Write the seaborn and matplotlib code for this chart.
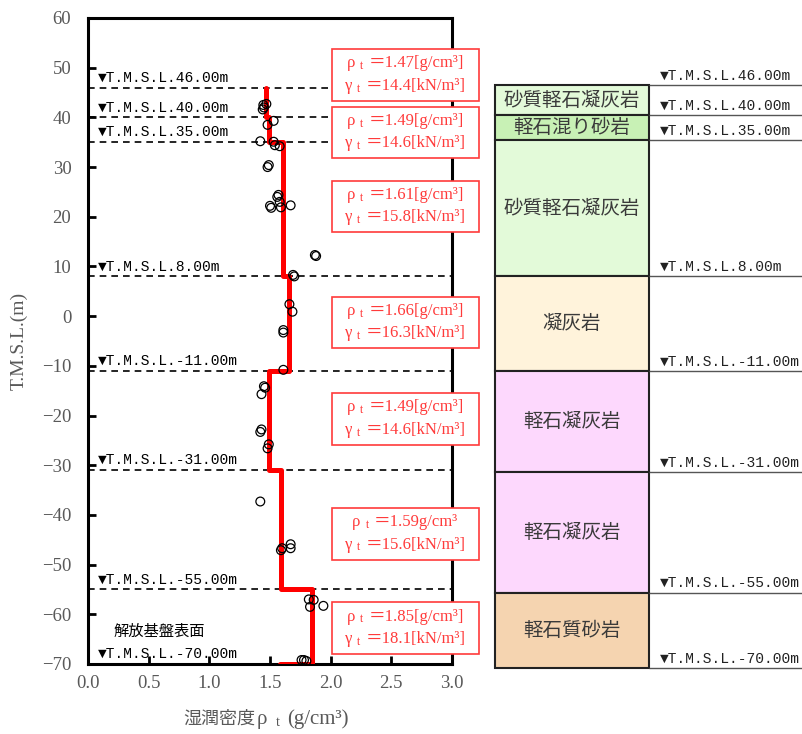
import matplotlib
matplotlib.use("Agg")
import matplotlib.pyplot as plt
import seaborn as sns
import pandas as pd
from matplotlib.ticker import FormatStrFormatter
from matplotlib.offsetbox import TextArea, HPacker, VPacker, AnnotationBbox, DrawingArea

sns.set_theme(style="ticks")
plt.rcParams['font.family'] = ['Liberation Serif', 'Noto Sans CJK JP']
plt.rcParams['mathtext.fontset'] = 'custom'
plt.rcParams['mathtext.rm'] = 'Liberation Serif'
plt.rcParams['mathtext.it'] = 'Liberation Serif:italic'

# 試験値 : 湿潤密度 (g/cm3) と標高 T.M.S.L. (m)
densite = [1.445, 1.47, 1.44, 1.45, 1.48, 1.53, 1.42, 1.53, 1.54, 1.58,
           1.49, 1.48, 1.56, 1.57, 1.50, 1.51, 1.59, 1.58, 1.67,
           1.87, 1.88, 1.69, 1.70, 1.66, 1.685, 1.61, 1.61, 1.61,
           1.45, 1.46, 1.43, 1.42, 1.43, 1.49, 1.48,
           1.42, 1.59, 1.60, 1.67, 1.67,
           1.82, 1.86, 1.94, 1.83, 1.76, 1.80, 1.78]
altitude = [42.5, 42.7, 41.6, 42.0, 38.5, 39.3, 35.2, 35.1, 34.4, 34.2,
            30.4, 30.0, 24.0, 24.4, 22.2, 21.8, 21.9, 23.0, 22.3,
            12.3, 12.1, 8.3, 8.0, 2.4, 0.9, -2.8, -3.3, -10.8,
            -14.1, -14.4, -15.7, -23.3, -22.8, -25.8, -26.6,
            -37.3, -47.1, -46.7, -45.9, -46.7,
            -57.0, -57.1, -58.3, -58.5, -69.2, -69.4, -69.2]

# 層ごとの設定値（階段線）
step_rho = [1.47, 1.47, 1.49, 1.49, 1.61, 1.61, 1.66, 1.66,
            1.49, 1.49, 1.59, 1.59, 1.85, 1.85, 1.58]
step_elev = [46, 40, 40, 35, 35, 8, 8, -11, -11, -31, -31, -55, -55, -70, -70]

# 層境界
limites = [46, 40, 35, 8, -11, -31, -55, -70]
limites_txt = ['46.00m', '40.00m', '35.00m', '8.00m', '-11.00m', '-31.00m', '-55.00m', '-70.00m']

# 層ごとの湿潤密度・単位体積重量
rho_t = ['1.47', '1.49', '1.61', '1.66', '1.49', '1.59', '1.85']
gamma_t = ['14.4', '14.6', '15.8', '16.3', '14.6', '15.6', '18.1']
rho_unit = ['[g/cm³]', '[g/cm³]', '[g/cm³]', '[g/cm³]', '[g/cm³]', 'g/cm³', '[g/cm³]']
box_y = [48.5, 37.0, 22.1, -1.3, -20.7, -43.8, -62.8]

# 地層
couches = ['砂質軽石凝灰岩', '軽石混り砂岩', '砂質軽石凝灰岩', '凝灰岩',
           '軽石凝灰岩', '軽石凝灰岩', '軽石質砂岩']
couleurs = ['#E3FAD9', '#C8F1B5', '#E3FAD9', '#FFF3DB',
            '#FDD8FD', '#FDD8FD', '#F5D4B0']

gris = '#595959'
rouge = '#FF3B3B'
police_tms = ['Liberation Mono', 'DejaVu Sans']

fig = plt.figure(figsize=(8.03, 7.34), dpi=100)
ax = fig.add_axes([88 / 803, 1 - 664 / 734, 364 / 803, 646 / 734])

df = pd.DataFrame({'rho': densite, 'elev': altitude})
sns.lineplot(x=step_rho, y=step_elev, sort=False, estimator=None,
             color='red', linewidth=3.6, ax=ax, zorder=3)
sns.scatterplot(data=df, x='rho', y='elev', ax=ax, s=40, facecolor='none',
                edgecolor='black', linewidth=0.9, zorder=4)

# 境界の破線とラベル
for lim in limites[:-1]:
    ax.axhline(lim, color='black', linestyle=(0, (4, 3)), linewidth=1.2, zorder=2)
for lim, txt in zip(limites, limites_txt):
    ax.text(0.08, lim + 2.0, '▼T.M.S.L.' + txt, family=police_tms,
            fontsize=10.5, va='center', ha='left', color='black', zorder=5)
ax.text(0.21, -63.4, '解放基盤表面', family=['Noto Sans CJK JP'], fontsize=11,
        va='center', ha='left', color='black')

ax.set_xlim(0, 3.0)
ax.set_ylim(-70, 60)
ax.set_xticks([0, 0.5, 1.0, 1.5, 2.0, 2.5, 3.0])
ax.set_yticks(range(-70, 61, 10))
ax.xaxis.set_major_formatter(FormatStrFormatter('%.1f'))
ax.tick_params(direction='in', length=6, width=2, colors='black',
               labelcolor=gris, labelsize=13.5)
ax.tick_params(axis='y', pad=12)
ax.tick_params(axis='x', pad=8)
for sp in ax.spines.values():
    sp.set_linewidth(2.2)
    sp.set_color('black')
ax.set_xlabel('')
ax.set_ylabel('T.M.S.L.(m)', color=gris, fontsize=14, labelpad=10)

# x 軸ラベル（添字付き）
lab = HPacker(children=[
    TextArea('湿潤密度', textprops=dict(color=gris, fontsize=13)),
    HPacker(children=[
        TextArea('ρ', textprops=dict(color=gris, fontsize=15)),
        TextArea(r'$_{\mathrm{t}}$', textprops=dict(color=gris, fontsize=15)),
        TextArea('(g/cm³)', textprops=dict(color=gris, fontsize=15)),
    ], align='baseline', pad=0, sep=5),
], align='baseline', pad=0, sep=1)
ax.add_artist(AnnotationBbox(lab, (0.49, -0.085), xycoords='axes fraction',
                             frameon=False, annotation_clip=False))

# 数値ボックス
def ligne(sym, valeur):
    return HPacker(children=[
        TextArea(sym, textprops=dict(color=rouge, fontsize=12)),
        TextArea(r'$_{\mathrm{t}}$', textprops=dict(color=rouge, fontsize=12)),
        TextArea(valeur, textprops=dict(color=rouge, fontsize=12)),
    ], align='baseline', pad=0, sep=3)

for r, g, u, yb in zip(rho_t, gamma_t, rho_unit, box_y):
    contenu = VPacker(children=[ligne('ρ', '＝' + r + u), ligne('γ', '＝' + g + '[kN/m³]')],
                      align='center', pad=0, sep=4)
    boite = HPacker(children=[DrawingArea(5, 1), contenu, DrawingArea(5, 1)],
                    align='center', pad=0, sep=0)
    ab = AnnotationBbox(boite, (2.615, yb), xycoords='data', frameon=True,
                        pad=0.4, annotation_clip=False, zorder=10,
                        bboxprops=dict(edgecolor=rouge, facecolor='white', linewidth=1.2))
    ax.add_artist(ab)

# 右側の地層柱状図
ax2 = fig.add_axes([495 / 803, 1 - 668 / 734, 308 / 803, 583 / 734])
hauts = limites[:-1]
bas = limites[1:]
ax2.bar([0.5] * len(couches), [h - b for h, b in zip(hauts, bas)], bottom=bas,
        width=1.0, color=couleurs, edgecolor='#222222', linewidth=1.5, clip_on=False)
for h, b, nom in zip(hauts, bas, couches):
    ax2.text(0.5, (h + b) / 2, nom, family=['Noto Sans CJK JP'], fontsize=14,
             ha='center', va='center', color='#3a3a3a')
ax2.hlines(limites, 1.0, 2.0, color='#555555', linewidth=1.0, clip_on=False)
for lim, txt in zip(limites, limites_txt):
    ax2.text(1.07, lim + 1.9, '▼T.M.S.L.' + txt, family=police_tms,
             fontsize=10.5, va='center', ha='left', color='#222222')
ax2.set_xlim(0, 2.0)
ax2.set_ylim(-70, 46)
ax2.axis('off')

fig.savefig('out.png', dpi=100)
